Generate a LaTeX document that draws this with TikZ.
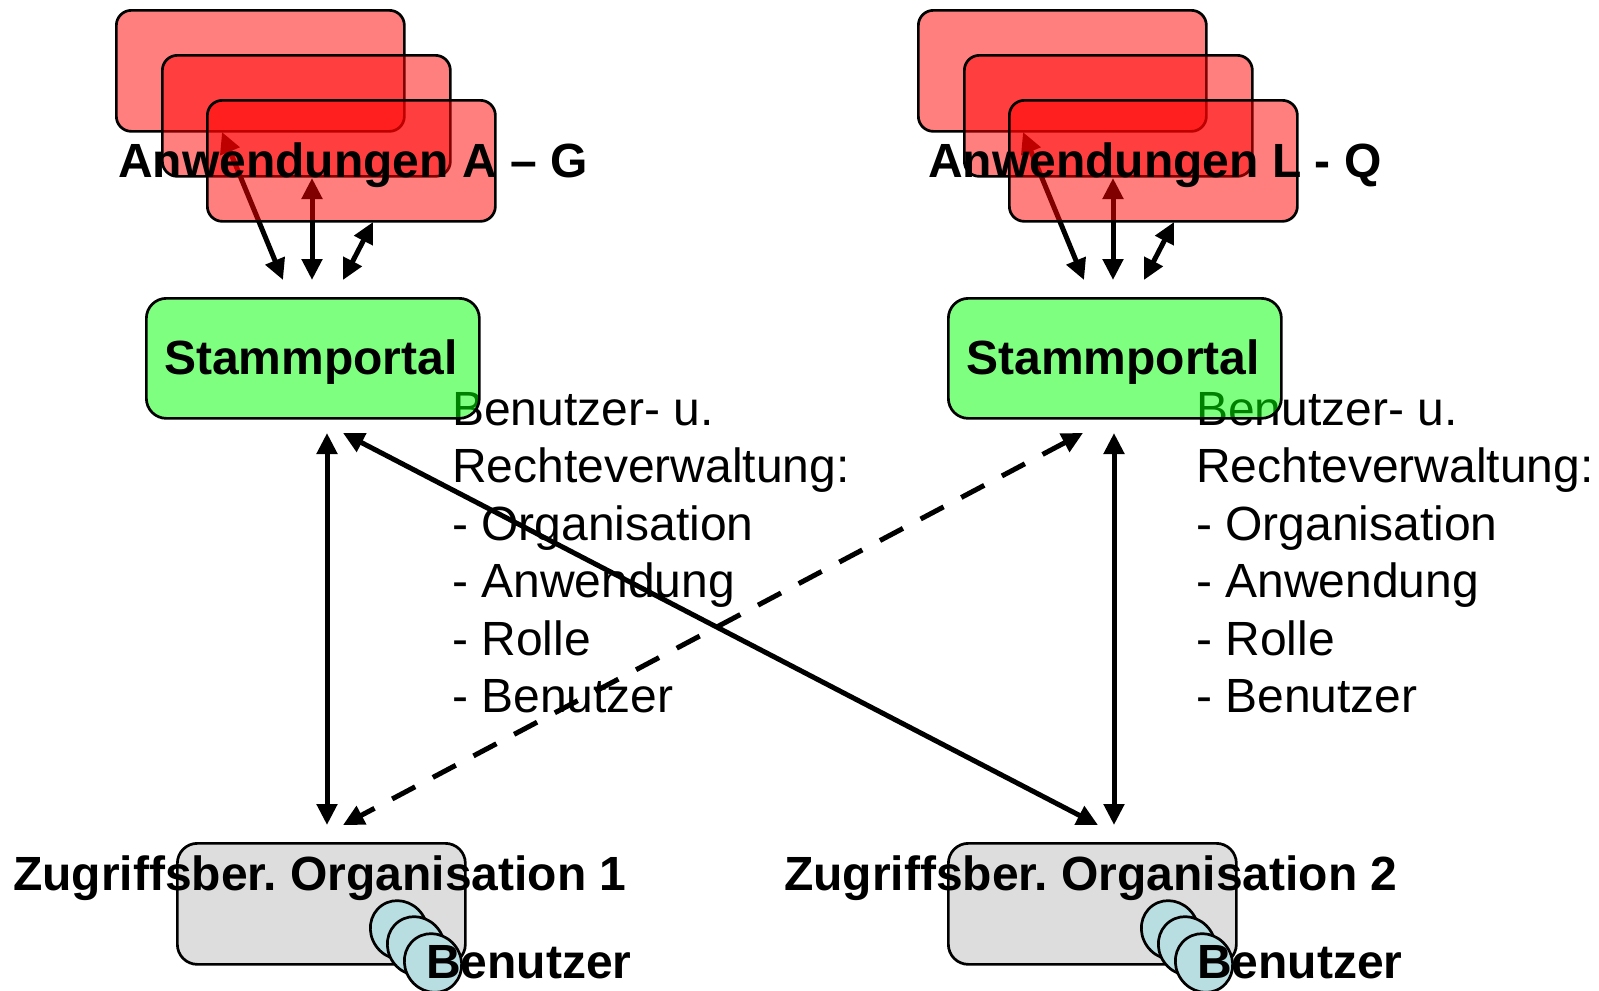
\documentclass[tikz,border=0pt]{standalone}
\usepackage{fontspec}
\setmainfont{Liberation Sans}
\usetikzlibrary{arrows.meta,shapes.geometric}
\definecolor{grayfill}{RGB}{221,221,221}
\definecolor{userfill}{RGB}{185,222,226}
\frenchspacing
\begin{document}
\begin{tikzpicture}[x=1pt,y=-1pt,
  appbox/.style={draw=black, line width=2.7pt, fill=red, fill opacity=0.5, rounded corners=15pt, anchor=north west, minimum width=288pt, minimum height=121pt, inner sep=0pt},
  portalbox/.style={draw=black, line width=2.7pt, fill=green, fill opacity=0.5, rounded corners=20pt, anchor=north west, minimum width=333pt, minimum height=120pt, inner sep=0pt},
  orgbox/.style={draw=black, line width=2.7pt, fill=grayfill, rounded corners=20pt, anchor=north west, minimum width=288pt, minimum height=121pt, inner sep=0pt},
  userdisc/.style={draw=black, line width=2.7pt, fill=userfill, ellipse, minimum width=56pt, minimum height=60pt, inner sep=0pt, rotate=35},
  bigbold/.style={font=\fontsize{48}{58}\selectfont\bfseries, inner sep=0pt, anchor=base west},
  plaintext/.style={font=\fontsize{48}{58}\selectfont, inner sep=0pt, anchor=base west},
  conn/.style={line width=5pt, {Triangle[length=21pt,width=20pt]}-{Triangle[length=21pt,width=20pt]}},
  dconn/.style={conn, dash pattern=on 26pt off 20pt},
]
\useasboundingbox (0,0) rectangle (1599,991);

% ---------- coordinates for connector ends ----------
\coordinate (tl1a) at (222,132);  \coordinate (tl1b) at (283,280);
\coordinate (tl2a) at (312,178);  \coordinate (tl2b) at (312,280);
\coordinate (tl3a) at (373,222);  \coordinate (tl3b) at (343,280);
\coordinate (tr1a) at (1023,132); \coordinate (tr1b) at (1084,280);
\coordinate (tr2a) at (1113,178); \coordinate (tr2b) at (1113,280);
\coordinate (tr3a) at (1174,222); \coordinate (tr3b) at (1144,280);

\coordinate (pl1) at (327,433);  \coordinate (ol1) at (327,825);
\coordinate (pl2) at (343,433);  \coordinate (or2) at (1098,825);
\coordinate (pr2) at (1083,433); \coordinate (ol2) at (343,825);
\coordinate (pr1) at (1114,433); \coordinate (or1) at (1114,825);

% ---------- top connectors (under the application boxes) ----------
\draw[conn] (tl1a) -- (tl1b);
\draw[conn] (tl2a) -- (tl2b);
\draw[conn] (tl3a) -- (tl3b);
\draw[conn] (tr1a) -- (tr1b);
\draw[conn] (tr2a) -- (tr2b);
\draw[conn] (tr3a) -- (tr3b);

% ---------- application boxes ----------
\node[appbox] (al1) at (115,9) {};
\node[appbox] (al2) at (161,54) {};
\node[appbox] (al3) at (206,99) {};
\node[appbox] (ar1) at (917,9) {};
\node[appbox] (ar2) at (963,54) {};
\node[appbox] (ar3) at (1008,99) {};

\node[bigbold] (anwl) at (118,177) {Anwendungen A – G};
\node[bigbold] (anwr) at (928,177) {Anwendungen L - Q};

% ---------- text blocks ----------
\node[plaintext] (bl1) at (452,425) {Benutzer- u.};
\node[plaintext] (bl2) at (452,482) {Rechteverwaltung:};
\node[plaintext] (bl3) at (452,540) {- Organisation};
\node[plaintext] (bl4) at (452,597) {- Anwendung};
\node[plaintext] (bl5) at (452,655) {- Rolle};
\node[plaintext] (bl6) at (452,712) {- Benutzer};

\node[plaintext] (br1) at (1196,425) {Benutzer- u.};
\node[plaintext] (br2) at (1196,482) {Rechteverwaltung:};
\node[plaintext] (br3) at (1196,540) {- Organisation};
\node[plaintext] (br4) at (1196,597) {- Anwendung};
\node[plaintext] (br5) at (1196,655) {- Rolle};
\node[plaintext] (br6) at (1196,712) {- Benutzer};

% ---------- portals ----------
\node[portalbox] (spl) at (145,297) {};
\node[portalbox] (spr) at (947,297) {};
\node[bigbold, anchor=base] (spltxt) at (311,374) {Stammportal};
\node[bigbold, anchor=base] (sprtxt) at (1113,374) {Stammportal};

% ---------- main connectors ----------
\draw[conn] (pl1) -- (ol1);
\draw[conn] (pl2) -- (or2);
\draw[dconn] (pr2) -- (ol2);
\draw[conn] (pr1) -- (or1);

% ---------- organisations ----------
\node[orgbox] (orgl) at (176,842) {};
\node[orgbox] (orgr) at (947,842) {};
\node[bigbold] (orgltxt) at (13,890) {Zugriffsber. Organisation 1};
\node[bigbold] (orgrtxt) at (784,890) {Zugriffsber. Organisation 2};

\node[userdisc] (ul1) at (399,930) {};
\node[userdisc] (ul2) at (416,946) {};
\node[userdisc] (ul3) at (433,963) {};
\node[userdisc] (ur1) at (1170,930) {};
\node[userdisc] (ur2) at (1187,946) {};
\node[userdisc] (ur3) at (1204,963) {};

\node[bigbold] (usl) at (426,978) {Benutzer};
\node[bigbold] (usr) at (1197,978) {Benutzer};
\end{tikzpicture}
\end{document}
